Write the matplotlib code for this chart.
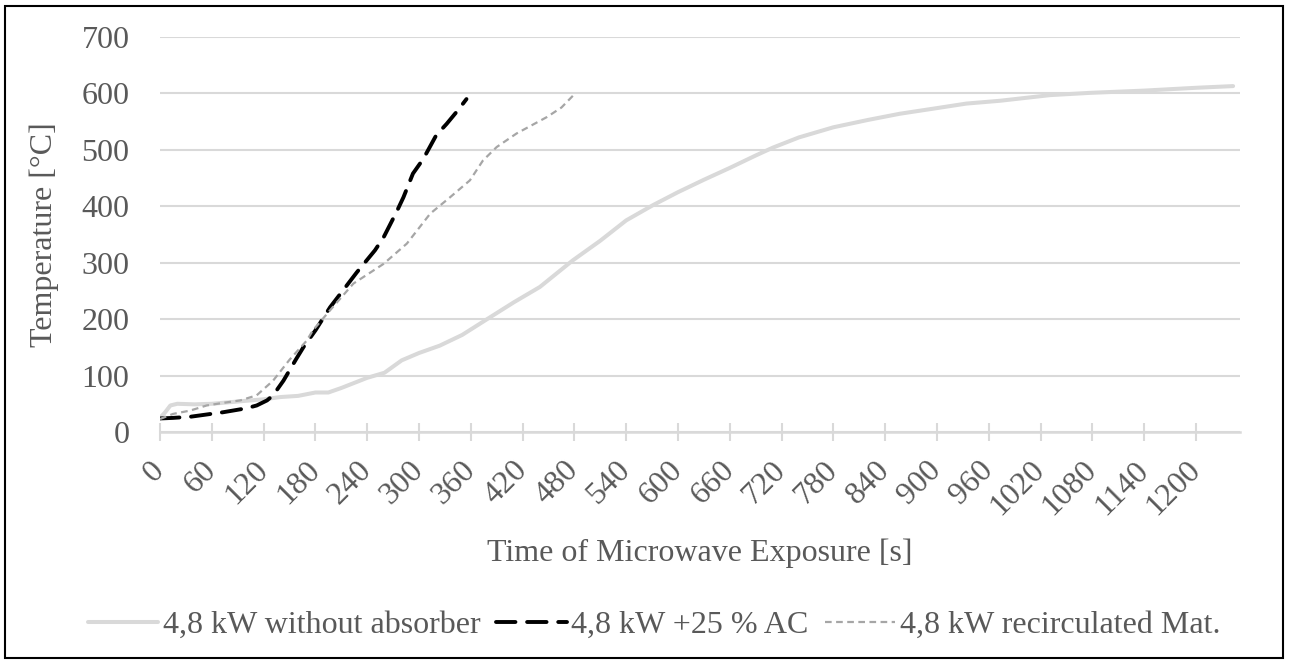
import matplotlib.pyplot as plt
from matplotlib.patches import Rectangle

# Data
t_plain = [0, 6, 12, 20, 40, 60, 90, 120, 140, 160, 180, 195, 210, 240, 260, 280, 300,
           324, 350, 382, 410, 440, 478, 510, 540, 571, 600, 630, 660, 690, 710, 740,
           780, 820, 857, 900, 934, 973, 1031, 1077, 1140, 1200, 1243]
temp_plain = [25, 35, 47, 50, 49, 50, 54, 58, 62, 64, 70, 70, 78, 96, 105, 127, 140,
              153, 172, 203, 230, 257, 304, 339, 375, 402, 425, 447, 468, 490, 504, 522,
              540, 553, 564, 574, 582, 587, 597, 601, 605, 610, 613]

t_ac = [0, 15, 35, 73, 100, 112, 124, 131, 143, 158, 166, 180, 197, 209, 228, 249,
        259, 274, 282, 293, 305, 320, 332, 345, 355]
temp_ac = [24, 25, 27, 35, 42, 47, 56, 65, 91, 130, 150, 180, 221, 245, 283, 322,
           345, 390, 416, 458, 484, 526, 546, 570, 590]

t_recirc = [0, 15, 35, 54, 75, 93, 112, 131, 150, 170, 177, 200, 224, 259, 286, 313,
            336, 359, 374, 390, 413, 448, 465, 479]
temp_recirc = [23, 32, 38, 47, 52, 56, 65, 91, 128, 162, 180, 221, 263, 298, 334, 387,
               416, 446, 481, 505, 529, 558, 575, 597]

labels = ["4,8 kW without absorber", "4,8 kW +25 % AC", "4,8 kW recirculated Mat."]
x_ticks = list(range(0, 1201, 60))
y_ticks = list(range(0, 701, 100))

text_col = "#595959"
grid_col = "#d9d9d9"
fs = 23

plt.rcParams['font.family'] = ['Liberation Serif', 'DejaVu Serif']

fig = plt.figure(figsize=(12.89, 6.63), dpi=100)
ax = fig.add_axes([160 / 1289, 1 - 432 / 663, 1080 / 1289, 395 / 663])

ax.plot(t_plain, temp_plain, color="#d9d9d9", lw=2.9, solid_capstyle='round',
        label=labels[0], zorder=3)
ax.plot(t_ac, temp_ac, color="black", lw=2.8, dashes=(5, 3), dash_capstyle='round',
        label=labels[1], zorder=4)
ax.plot(t_recirc, temp_recirc, color="#a6a6a6", lw=1.6, dashes=(3, 2),
        label=labels[2], zorder=5)

ax.set_xlim(0, 1251)
ax.set_ylim(0, 700)
ax.set_yticks(y_ticks)
ax.set_xticks(x_ticks)
ax.set_xticklabels([str(v) for v in x_ticks], rotation=45, ha='right', va='center',
                   rotation_mode='anchor')

ax.grid(axis='y', color=grid_col, lw=1.5, zorder=0)
for s in ['top', 'right', 'left']:
    ax.spines[s].set_visible(False)
ax.spines['bottom'].set_color(grid_col)
ax.spines['bottom'].set_linewidth(1.8)

ax.tick_params(axis='y', length=0, pad=22, labelsize=fs, labelcolor=text_col)
ax.tick_params(axis='x', direction='inout', length=13, width=1.5, color=grid_col,
               pad=18, labelsize=fs, labelcolor=text_col)

fig.text(700 / 1289, 1 - 553 / 663, "Time of Microwave Exposure [s]", fontsize=fs,
         color=text_col, ha='center', va='center')
fig.text(44 / 1289, 1 - 235 / 663, "Temperature [°C]", fontsize=fs, color=text_col,
         ha='center', va='center', rotation=90)

fig.legend(loc='center', bbox_to_anchor=(654 / 1289, 1 - 625 / 663), ncol=3,
           frameon=False, fontsize=fs, labelcolor=text_col, handlelength=2.2,
           handletextpad=0.15, columnspacing=0.5, borderaxespad=0)

fig.patches.append(Rectangle((5 / 1289, 5 / 663), 1278 / 1289, 652 / 663,
                             transform=fig.transFigure, fill=False, edgecolor='black',
                             lw=1.5))

fig.savefig("out.png", dpi=100)
